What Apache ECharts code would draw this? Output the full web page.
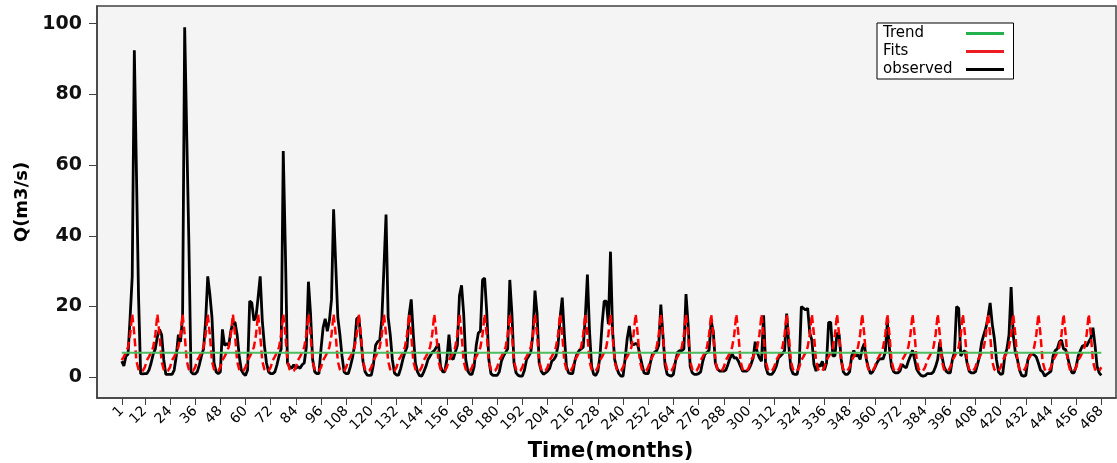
<!DOCTYPE html>
<html>
<head>
<meta charset="utf-8">
<script src="https://cdn.jsdelivr.net/npm/echarts@6/dist/echarts.min.js"></script>
<style>
  html, body { margin: 0; padding: 0; background: #fff; }
  #chart { width: 1117px; height: 463px; }
</style>
</head>
<body>
<div id="chart"></div>
<script>
// x tick labels (months)
const monthTicks = [1, 12, 24, 36, 48, 60, 72, 84, 96, 108, 120, 132, 144, 156, 168, 180, 192, 204, 216, 228,
  240, 252, 264, 276, 288, 300, 312, 324, 336, 348, 360, 372, 384, 396, 408, 420, 432, 444, 456, 468];
const valueTicks = [0, 20, 40, 60, 80, 100];

// observed monthly flow, one row per year (months 1..468)
const observed = [
  4.5, 3.2, 5.9, 6.5, 17, 28.5, 92.5, 58, 23, 1.0, 0.9, 1.0,
  1.0, 2.0, 4, 6.5, 8, 11.5, 13.5, 12, 5, 0.8, 0.8, 0.8,
  0.8, 2, 6, 12, 10, 17, 99, 68, 38, 1.5, 0.9, 0.9,
  1.5, 3.5, 6, 8, 16, 28.5, 23.5, 17, 4, 1.5, 1.0, 1.5,
  13.5, 9, 9.5, 9, 13, 15.5, 15.5, 12, 6, 2, 1, 0.5,
  2, 21.5, 21, 16, 17, 22.5, 28.5, 16, 9, 4, 1.5, 1,
  1, 1.5, 3.5, 6, 8, 64, 36, 4, 3, 2.5, 3.5, 2.5,
  3, 2.5, 3.5, 4, 8.5, 27, 18, 5, 1.5, 1, 1, 8,
  14, 16.5, 13, 16, 22, 47.5, 32, 17, 12, 6, 1.5, 1,
  1, 3, 5.5, 9, 16.5, 17, 11, 4.5, 1.5, 0.6, 0.5, 0.6,
  3.6, 9, 10, 10.5, 16.5, 31, 46, 17, 12, 5, 1.2, 0.6,
  0.6, 2.5, 5, 7, 8.5, 17.5, 22, 12, 4, 1.5, 0.4, 0.3,
  1.5, 3, 5, 6, 7, 7.5, 8.5, 9.5, 3, 1.5, 1.5, 5,
  12, 5.5, 5, 7, 9, 23, 26, 18, 5, 1.7, 0.8, 0.8,
  3, 9, 12.5, 13, 27.5, 28, 18.5, 5, 1, 0.5, 0.5, 0.5,
  1.5, 4.5, 6, 7, 8, 27.5, 18, 4, 1.2, 0.5, 0.3, 0.3,
  2, 5, 6, 7, 12, 24.5, 18, 4, 1.7, 0.8, 1.2, 1.7,
  2.5, 4.5, 5, 6, 9, 17, 22.5, 12, 3, 1.2, 1, 1,
  4.5, 6.5, 7.5, 8, 8.5, 17, 29, 13, 3, 0.8, 0.5, 1.7,
  6, 15, 21.5, 21.5, 15, 35.5, 13, 5, 2.5, 1, 0.3, 0.3,
  5.4, 11, 14.5, 9.5, 9.2, 9.5, 9.2, 6.3, 3.6, 1.2, 1, 1,
  4, 6.5, 7, 7.5, 9, 20.5, 12, 3.5, 0.8, 0.5, 0.3, 0.8,
  4.5, 7, 7.5, 7.5, 8, 23.5, 15, 3, 1.2, 0.8, 0.8, 1,
  1.5, 4.5, 6.5, 7, 7.6, 15.8, 13, 4, 2.3, 1.7, 1.7, 1.7,
  2, 3.6, 5.4, 6.6, 5.4, 5.5, 4.5, 3, 1.7, 1.7, 1.7, 2.3,
  3.6, 5.4, 10, 7, 5.4, 4.5, 17.5, 3, 1, 0.8, 0.8, 1.7,
  3, 5.4, 6, 6.6, 7.5, 18, 9, 2.5, 1, 0.8, 0.8, 3.9,
  20, 19.5, 19, 19.5, 12.5, 10.5, 3.6, 1.7, 3.6, 3, 4.5, 2,
  4, 15.5, 15.5, 6, 6, 12.5, 12, 5, 1.5, 0.8, 0.8, 1.5,
  6, 7.5, 6, 6.3, 5, 8, 9.5, 5, 2.5, 1, 1.5, 2.6,
  4, 5, 5.2, 5.2, 7, 15.5, 8, 3, 1.5, 1.2, 1.2, 1.7,
  3.6, 3, 2.6, 4.5, 6, 7.6, 5, 2.2, 1.2, 0.5, 0.3, 0.4,
  1, 1, 1, 1.5, 3, 5, 10, 6, 3, 1.7, 1.2, 1.2,
  5, 7, 20, 19.5, 6, 7, 7.5, 4, 1.7, 1.2, 1.2, 1.5,
  3.6, 6, 10, 12, 14, 17, 21, 15, 11, 5, 1.5, 0.8,
  1, 6, 8, 12, 25.5, 12, 7, 5, 2, 0.5, 0.3, 0.5,
  5, 6.3, 6.6, 6.3, 5.7, 4, 2, 1.5, 0.3, 0.8, 1.2, 1.7,
  6, 7.5, 8, 10, 10.5, 8, 7.8, 5.5, 3, 1.2, 1.2, 3,
  6, 7.5, 8.8, 9, 8.8, 10, 11, 14, 9, 3, 1.2, 0.5
];

// fitted values, one row per year
const fits = [
  4.8, 5.8, 7.0, 8.5, 12.0, 17.8, 12.0, 4.5, 2.2, 1.6, 1.8, 2.8,
  4.8, 5.8, 7.0, 8.5, 12.0, 17.8, 12.0, 4.5, 2.2, 1.6, 1.8, 2.8,
  4.8, 5.8, 7.0, 8.5, 12.0, 17.8, 12.0, 4.5, 2.2, 1.6, 1.8, 2.8,
  4.8, 5.8, 7.0, 8.5, 12.0, 17.8, 12.0, 4.5, 2.2, 1.6, 1.8, 2.8,
  4.8, 5.8, 7.0, 8.5, 12.0, 17.8, 12.0, 4.5, 2.2, 1.6, 1.8, 2.8,
  4.8, 5.8, 7.0, 8.5, 12.0, 17.8, 12.0, 4.5, 2.2, 1.6, 1.8, 2.8,
  4.8, 5.8, 7.0, 8.5, 12.0, 17.8, 12.0, 4.5, 2.2, 1.6, 1.8, 2.8,
  4.8, 5.8, 7.0, 8.5, 12.0, 17.8, 12.0, 4.5, 2.2, 1.6, 1.8, 2.8,
  4.8, 5.8, 7.0, 8.5, 12.0, 17.8, 12.0, 4.5, 2.2, 1.6, 1.8, 2.8,
  4.8, 5.8, 7.0, 8.5, 12.0, 17.8, 12.0, 4.5, 2.2, 1.6, 1.8, 2.8,
  4.8, 5.8, 7.0, 8.5, 12.0, 17.8, 12.0, 4.5, 2.2, 1.6, 1.8, 2.8,
  4.8, 5.8, 7.0, 8.5, 12.0, 17.8, 12.0, 4.5, 2.2, 1.6, 1.8, 2.8,
  4.8, 5.8, 7.0, 8.5, 12.0, 17.8, 12.0, 4.5, 2.2, 1.6, 1.8, 2.8,
  4.8, 5.8, 7.0, 8.5, 12.0, 17.8, 12.0, 4.5, 2.2, 1.6, 1.8, 2.8,
  4.8, 5.8, 7.0, 8.5, 12.0, 17.8, 12.0, 4.5, 2.2, 1.6, 1.8, 2.8,
  4.8, 5.8, 7.0, 8.5, 12.0, 17.8, 12.0, 4.5, 2.2, 1.6, 1.8, 2.8,
  4.8, 5.8, 7.0, 8.5, 12.0, 17.8, 12.0, 4.5, 2.2, 1.6, 1.8, 2.8,
  4.8, 5.8, 7.0, 8.5, 12.0, 17.8, 12.0, 4.5, 2.2, 1.6, 1.8, 2.8,
  4.8, 5.8, 7.0, 8.5, 12.0, 17.8, 12.0, 4.5, 2.2, 1.6, 1.8, 2.8,
  4.8, 5.8, 7.0, 8.5, 12.0, 17.8, 12.0, 4.5, 2.2, 1.6, 1.8, 2.8,
  4.8, 5.8, 7.0, 8.5, 12.0, 17.8, 12.0, 4.5, 2.2, 1.6, 1.8, 2.8,
  4.8, 5.8, 7.0, 8.5, 12.0, 17.8, 12.0, 4.5, 2.2, 1.6, 1.8, 2.8,
  4.8, 5.8, 7.0, 8.5, 12.0, 17.8, 12.0, 4.5, 2.2, 1.6, 1.8, 2.8,
  4.8, 5.8, 7.0, 8.5, 12.0, 17.8, 12.0, 4.5, 2.2, 1.6, 1.8, 2.8,
  4.8, 5.8, 7.0, 8.5, 12.0, 17.8, 12.0, 4.5, 2.2, 1.6, 1.8, 2.8,
  4.8, 5.8, 7.0, 8.5, 12.0, 17.8, 12.0, 4.5, 2.2, 1.6, 1.8, 2.8,
  4.8, 5.8, 7.0, 8.5, 12.0, 17.8, 12.0, 4.5, 2.2, 1.6, 1.8, 2.8,
  4.8, 5.8, 7.0, 8.5, 12.0, 17.8, 12.0, 4.5, 2.2, 1.6, 1.8, 2.8,
  4.8, 5.8, 7.0, 8.5, 12.0, 17.8, 12.0, 4.5, 2.2, 1.6, 1.8, 2.8,
  4.8, 5.8, 7.0, 8.5, 12.0, 17.8, 12.0, 4.5, 2.2, 1.6, 1.8, 2.8,
  4.8, 5.8, 7.0, 8.5, 12.0, 17.8, 12.0, 4.5, 2.2, 1.6, 1.8, 2.8,
  4.8, 5.8, 7.0, 8.5, 12.0, 17.8, 12.0, 4.5, 2.2, 1.6, 1.8, 2.8,
  4.8, 5.8, 7.0, 8.5, 12.0, 17.8, 12.0, 4.5, 2.2, 1.6, 1.8, 2.8,
  4.8, 5.8, 7.0, 8.5, 12.0, 17.8, 12.0, 4.5, 2.2, 1.6, 1.8, 2.8,
  4.8, 5.8, 7.0, 8.5, 12.0, 17.8, 12.0, 4.5, 2.2, 1.6, 1.8, 2.8,
  4.8, 5.8, 7.0, 8.5, 12.0, 17.8, 12.0, 4.5, 2.2, 1.6, 1.8, 2.8,
  4.8, 5.8, 7.0, 8.5, 12.0, 17.8, 12.0, 4.5, 2.2, 1.6, 1.8, 2.8,
  4.8, 5.8, 7.0, 8.5, 12.0, 17.8, 12.0, 4.5, 2.2, 1.6, 1.8, 2.8,
  4.8, 5.8, 7.0, 8.5, 12.0, 17.8, 12.0, 4.5, 2.2, 1.6, 1.8, 2.8
];

// linear trend (flat)
const trendMonths = [1, 468];
const trendValues = [6.9, 6.9];

const FONT = 'DejaVu Sans';
const chart = echarts.init(document.getElementById('chart'), null, { renderer: 'canvas' });

const obsPoints = observed.map((v, i) => [i + 1, v]);
const fitPoints = fits.map((v, i) => [i + 1, v]);
const trendPoints = trendMonths.map((m, i) => [m, trendValues[i]]);

// legend entries: plain line, no marker
const noMarker = { color: 'rgba(0,0,0,0)', borderColor: 'rgba(0,0,0,0)', borderWidth: 0, opacity: 0 };

const option = {
  animation: false,
  backgroundColor: '#ffffff',
  grid: {
    left: 97, top: 6, right: 1, bottom: 65,
    containLabel: false, outerBoundsMode: 'none',
    show: true, backgroundColor: '#f4f4f4', borderColor: '#404040', borderWidth: 1.5
  },
  legend: {
    orient: 'vertical', left: 877, top: 23,
    padding: [3, 8, 2, 6], itemGap: 3, itemWidth: 38, itemHeight: 14,
    align: 'right', selectedMode: false,
    backgroundColor: '#ffffff', borderColor: '#000', borderWidth: 1, borderRadius: 0,
    formatter: '{a|{name}}',
    textStyle: {
      fontFamily: FONT, fontSize: 15, color: '#000',
      rich: { a: { width: 78, align: 'left', fontFamily: FONT, fontSize: 15, color: '#000' } }
    },
    data: [
      { name: 'Trend', lineStyle: { color: '#22b14c', width: 3, type: 'solid' }, itemStyle: noMarker },
      { name: 'Fits', lineStyle: { color: '#ed1c24', width: 3, type: 'solid' }, itemStyle: noMarker },
      { name: 'observed', lineStyle: { color: '#000', width: 3, type: 'solid' }, itemStyle: noMarker }
    ]
  },
  xAxis: {
    type: 'value', min: -10.8, max: 475,
    name: 'Time(months)', nameLocation: 'middle', nameGap: 43,
    nameTextStyle: { fontFamily: FONT, fontSize: 21, fontWeight: 'bold', color: '#000', padding: [0, 0, 0, 8] },
    axisLine: { show: true, onZero: false, lineStyle: { color: '#404040', width: 1.5 } },
    axisTick: { show: true, length: 7, lineStyle: { color: '#404040', width: 1 }, customValues: monthTicks },
    axisLabel: {
      customValues: monthTicks, rotate: 45, margin: 11,
      fontFamily: FONT, fontSize: 14, color: '#000'
    },
    splitLine: { show: false }
  },
  yAxis: {
    type: 'value', min: -5.9, max: 105,
    name: 'Q(m3/s)', nameLocation: 'middle', nameGap: 64,
    nameTextStyle: { fontFamily: FONT, fontSize: 18, fontWeight: 'bold', color: '#000' },
    axisLine: { show: true, onZero: false, lineStyle: { color: '#404040', width: 1.5 } },
    axisTick: { show: true, length: 8, lineStyle: { color: '#404040', width: 1 }, customValues: valueTicks },
    axisLabel: {
      customValues: valueTicks, margin: 15,
      fontFamily: FONT, fontSize: 19, fontWeight: 'bold', color: '#111'
    },
    splitLine: { show: false }
  },
  series: [
    {
      name: 'observed', type: 'line', data: obsPoints, symbol: 'none', z: 2,
      lineStyle: { color: '#000', width: 2.8, join: 'bevel' }, itemStyle: { color: '#000' }
    },
    {
      name: 'Fits', type: 'line', data: fitPoints, symbol: 'none', z: 3,
      lineStyle: { color: '#ff0000', width: 2.5, type: [8, 4], join: 'bevel' }, itemStyle: { color: '#ff0000' }
    },
    {
      name: 'Trend', type: 'line', data: trendPoints, symbol: 'none', z: 4,
      lineStyle: { color: '#4dbd5f', width: 2 }, itemStyle: { color: '#4dbd5f' }
    }
  ]
};

chart.setOption(option);
</script>
</body>
</html>
